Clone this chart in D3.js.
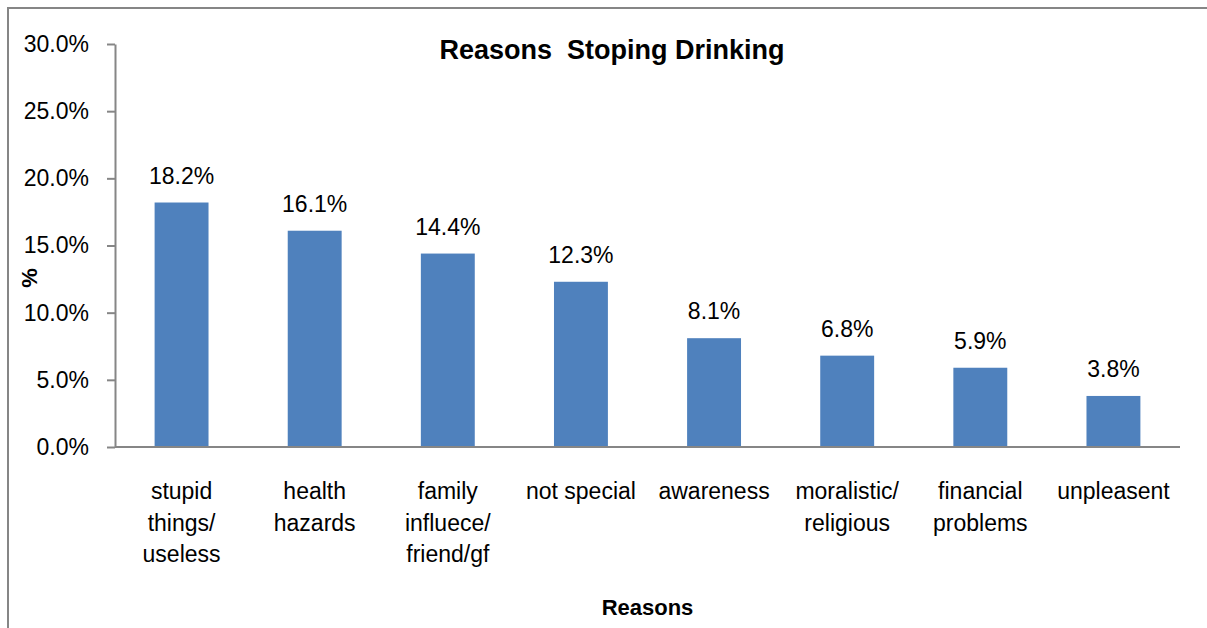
<!DOCTYPE html>
<html><head><meta charset="utf-8">
<script src="https://cdn.jsdelivr.net/npm/d3@7"></script>
<style>body{margin:0;background:#fff}svg{display:block}text{font-family:"Liberation Sans",Arial,sans-serif;fill:#000}</style>
</head><body>
<script>
const categories = ["stupid things/ useless","health hazards","family influece/ friend/gf","not special","awareness","moralistic/ religious","financial problems","unpleasent"];
const categoryLines = [["stupid","things/","useless"],["health","hazards"],["family","influece/","friend/gf"],["not special"],["awareness"],["moralistic/","religious"],["financial","problems"],["unpleasent"]];
const values = [18.2,16.1,14.4,12.3,8.1,6.8,5.9,3.8];
const yTicks = [0,5,10,15,20,25,30];
const title = "Reasons  Stoping Drinking";
const xTitle = "Reasons";
const yTitle = "%";

(function(){
const W = 1207, H = 628;
const svg = d3.select("body").append("svg").attr("width", W).attr("height", H);
svg.append("rect").attr("x",8).attr("y",8).attr("width",1212).attr("height",640)
  .attr("fill","#fff").attr("stroke","#868686").attr("stroke-width",2);

const pL = 115, pR = 1180, pT = 44, pB = 447;
const x = d3.scaleBand().domain(categories).range([pL, pR]).padding(0);
const y = d3.scaleLinear().domain([0,30]).range([pB, pT]);
const barW = x.bandwidth() * 0.405;

const yAxis = d3.axisLeft(y).tickValues(yTicks).tickFormat(d => d.toFixed(1) + "%").tickSizeInner(8).tickSizeOuter(0).tickPadding(18);
const gy = svg.append("g").attr("transform", `translate(${pL},0)`).call(yAxis);
gy.select(".domain").attr("stroke","#868686").attr("stroke-width",2);
gy.selectAll(".tick line").attr("stroke","#868686").attr("stroke-width",2);
gy.selectAll(".tick text").attr("font-size",23).attr("font-family","Liberation Sans, Arial, sans-serif").attr("fill","#000");

svg.selectAll("rect.bar").data(values).enter().append("rect").attr("class","bar")
  .attr("x",(d,i)=>x(categories[i]) + x.bandwidth()/2 - barW/2)
  .attr("y",d=>y(d)).attr("width",barW).attr("height",d=>y(0)-y(d)).attr("fill","#4F81BD");

svg.append("line").attr("x1",pL).attr("x2",pR).attr("y1",y(0)).attr("y2",y(0))
  .attr("stroke","#868686").attr("stroke-width",2);

svg.selectAll("text.val").data(values).enter().append("text").attr("class","val")
  .attr("x",(d,i)=>x(categories[i]) + x.bandwidth()/2).attr("y",d=>y(d)-19)
  .attr("text-anchor","middle").attr("font-size",23).text(d=>d.toFixed(1)+"%");

categoryLines.forEach((lines,i)=>{
  const cx = x(categories[i]) + x.bandwidth()/2;
  const t = svg.append("text").attr("text-anchor","middle").attr("font-size",23).attr("x", cx).attr("y", 499);
  lines.forEach((l,j)=>t.append("tspan").attr("x", cx).attr("y", 499 + j*31.5).text(l));
});

svg.append("text").attr("x",612).attr("y",59).attr("text-anchor","middle").attr("font-size",27)
  .attr("font-weight","bold").style("white-space","pre").text(title);
svg.append("text").attr("x",(pL+pR)/2).attr("y",615).attr("text-anchor","middle").attr("font-size",22)
  .attr("font-weight","bold").text(xTitle);
svg.append("text").attr("transform","translate(37,278) rotate(-90)").attr("text-anchor","middle").attr("font-size",22)
  .attr("font-weight","bold").text(yTitle);
})();
</script>
</body></html>
